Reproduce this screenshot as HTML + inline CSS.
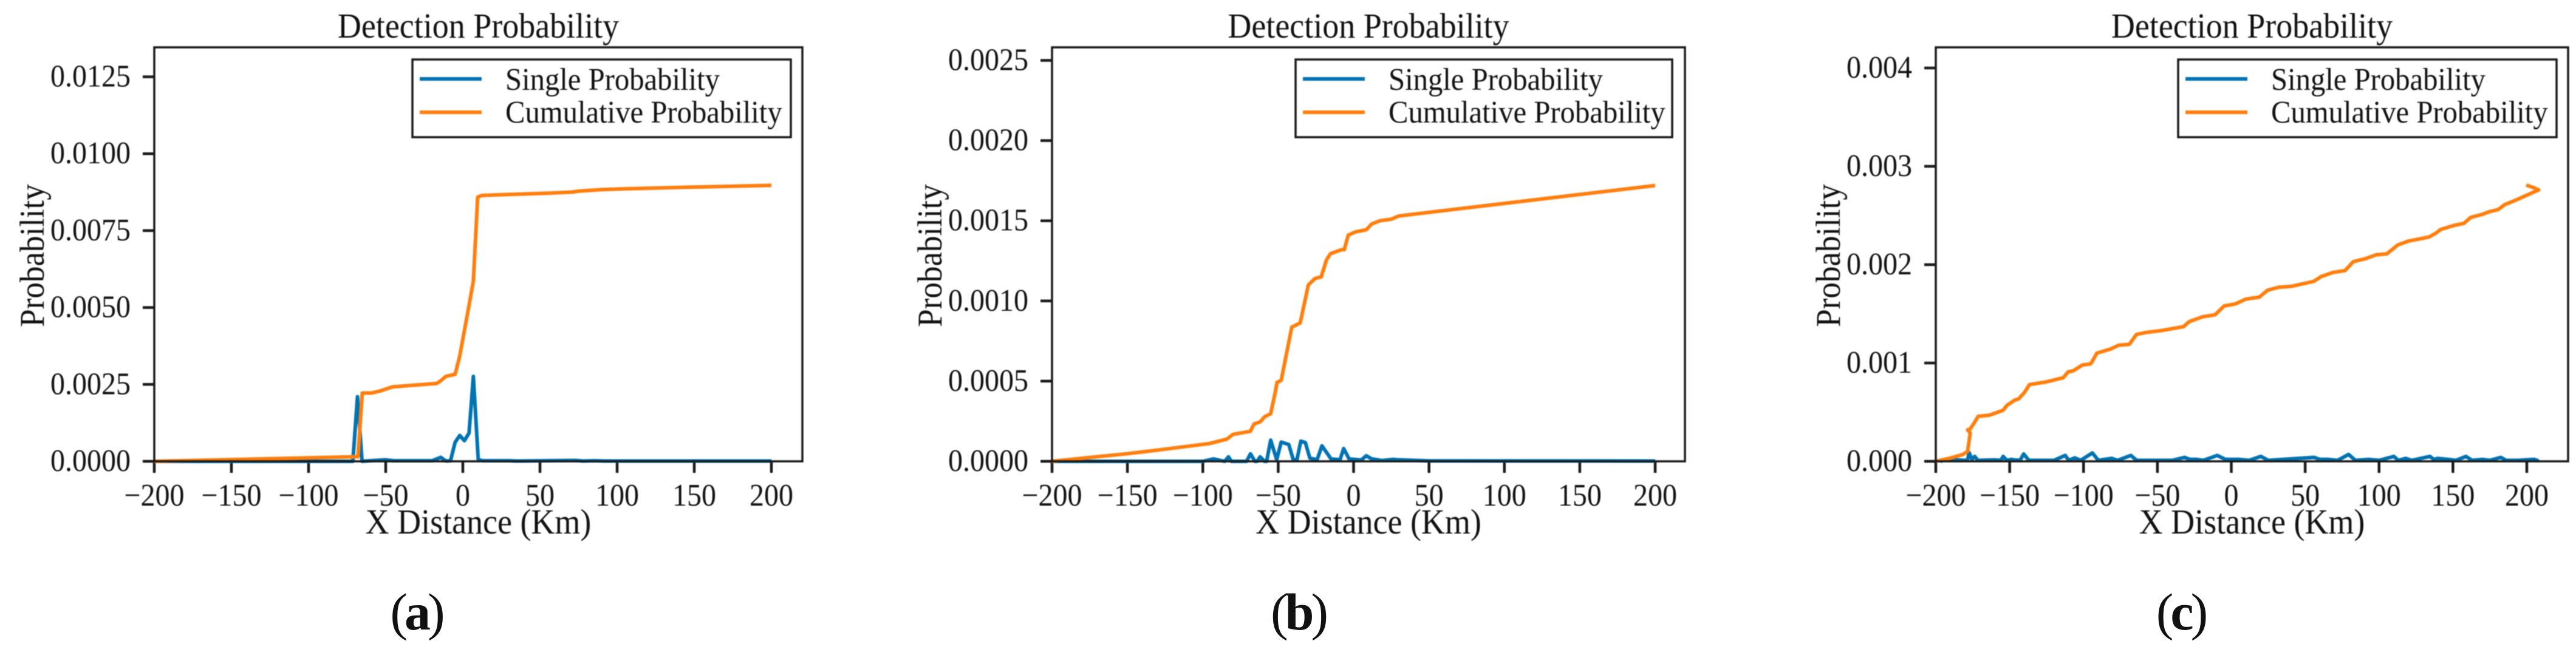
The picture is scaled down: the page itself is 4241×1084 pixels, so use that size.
<!DOCTYPE html>
<html>
<head>
<meta charset="utf-8">
<title>Detection Probability</title>
<style>
html,body{margin:0;padding:0;background:#fff;}
svg{display:block;}
text{font-family:"Liberation Serif",serif;fill:#111;}
.panel{filter:blur(0.7px);}
</style>
</head>
<body>
<svg id="figure" xmlns="http://www.w3.org/2000/svg" width="4241" height="1084" viewBox="0 0 4241 1084">
<rect width="4241" height="1084" fill="#ffffff"/>
</svg>
<script>
const xTicks = [-200,-150,-100,-50,0,50,100,150,200];

const aYTicks = [0,0.0025,0.005,0.0075,0.01,0.0125];
const aYLabels = ["0.0000","0.0025","0.0050","0.0075","0.0100","0.0125"];
const aSingleX = [-200,-71.3,-68.3,-65.3,-60,-50.2,-45,-20,-14.3,-11,-8,-5,-2,1,4,6.8,10,13,30,35,73,78,85,92,200];
const aSingleY = [0,0,0.0021,0,0.00002,0.00005,0.00002,0.00002,0.00013,0.00001,0.00002,0.00062,0.00084,0.00067,0.00092,0.00276,0.00005,0.00002,0.00002,0.00001,0.00003,0.00001,0.00002,0.00001,0.00001];
const aCumX = [-200,-68,-65.2,-59.3,-53.3,-45.7,-38,-17,-14.8,-11,-5,-2.1,1.4,3.9,6.8,9.6,12,21,56.7,71,74.5,89,106,146,200];
const aCumY = [0,0.00015,0.00222,0.00222,0.00229,0.00242,0.00245,0.00253,0.0026,0.00276,0.00283,0.00341,0.00436,0.00504,0.00586,0.00859,0.00864,0.00866,0.00872,0.00875,0.00878,0.00883,0.00886,0.00891,0.00897];

const bYTicks = [0,0.0005,0.001,0.0015,0.002,0.0025];
const bYLabels = ["0.0000","0.0005","0.0010","0.0015","0.0020","0.0025"];
const bSingleX = [-200,-100,-93,-85.5,-83,-81,-71,-68.4,-65.4,-64,-62,-59,-57.7,-55,-51,-48,-43,-40,-37.6,-35,-32,-29,-24.2,-21,-15,-9,-6.6,-3,5,8.4,12,15.6,18.7,26,29,50,200];
const bSingleY = [0,0,0.000015,0,0.000028,0,0,0.000047,0,0,0.000028,0,0,0.000132,0.00001,0.00012,0.000105,0.00001,0.00001,0.000126,0.000117,0.00002,0.00001,0.000097,0.000015,0.00001,0.00008,0.000015,0.000008,0.000035,0.000015,0.00001,0.000005,0.000012,0.00001,0.000003,0.000002];
const bCumX = [-200,-180.4,-151,-131,-95.5,-91,-84,-80,-68.5,-66,-62,-59,-55,-52,-50.8,-48,-41,-35.4,-30,-25.6,-21.5,-18,-15.3,-8,-6.2,-3.6,1,8.4,12,17.5,25,30,39,200];
const bCumY = [0,0.000019,0.0000467,0.000069,0.000111,0.000122,0.000139,0.000168,0.000187,0.000233,0.000246,0.000278,0.000297,0.000429,0.000492,0.000505,0.000837,0.000863,0.0011,0.00114,0.00115,0.001256,0.001295,0.00132,0.00132,0.00141,0.00143,0.001444,0.00148,0.0015,0.00151,0.00153,0.00154,0.00172];

const cYTicks = [0,0.001,0.002,0.003,0.004];
const cYLabels = ["0.000","0.001","0.002","0.003","0.004"];
const cSingleX = [-197,-195,-190,-180,-178.5,-177.5,-175.5,-173.7,-171.5,-160,-156,-154.4,-152,-149,-147,-143,-140.5,-137,-120,-112.4,-110,-106,-102,-94,-90,-81,-77,-68,-64,-40,-31.7,-28,-23.3,-19,-9.5,-4,5.5,12,20,25,56,60,65.7,72,79.4,84,93.3,100,105,110,113,118,122,134.4,137,139.7,147,152,158.8,163,170,175,182.4,186,194,205,208];
const cSingleY = [0,0.00001,0.00002,0.00001,0.00001,0.00009,0.00002,0.00005,0.00001,0.000015,0.00001,0.00005,0.00001,0.00002,0.000015,0.00001,0.000075,0.00001,0.00001,0.00006,0.00001,0.000035,0.00001,0.000085,0.00001,0.00003,0.00001,0.00006,0.00001,0.00001,0.00004,0.00002,0.00002,0.00001,0.00006,0.00002,0.00002,0.00001,0.00005,0.00001,0.00004,0.00002,0.00002,0.00001,0.00007,0.00001,0.00002,0.00001,0.00003,0.00005,0.00001,0.00003,0.00001,0.00005,0.00002,0.00003,0.00002,0.00001,0.00005,0.00001,0.00002,0.00001,0.00004,0.00001,0.00001,0.00002,0.000005];
const cCumX = [-200,-191,-182,-178.5,-176.7,-178.5,-176.7,-174,-171.4,-163.6,-154.4,-151.8,-146.5,-144,-140,-136.6,-125.6,-113.8,-110.4,-107,-100.7,-95.4,-94.7,-91,-82,-76.3,-69,-64.2,-58,-47,-32.3,-28.6,-19.5,-11,-4.8,2.6,10,19,24.6,32,41,55.8,61,68.6,77,82.6,90.6,98,105.3,112.7,120,133.6,138.4,142,151,157.4,162,169.5,175,180.6,185,191.6,199,208,205,199.6];
const cCumY = [0,0.00003,0.000068,0.0001,0.00029,0.00032,0.00033,0.00039,0.000457,0.00047,0.00052,0.00057,0.000623,0.000634,0.0007,0.00078,0.000807,0.00085,0.00091,0.00092,0.00098,0.00099,0.001,0.0011,0.00114,0.00118,0.00119,0.00129,0.00131,0.00133,0.00137,0.00142,0.00147,0.00149,0.00158,0.0016,0.00165,0.00167,0.00174,0.00177,0.00178,0.00183,0.00188,0.00192,0.00194,0.00203,0.00206,0.0021,0.00211,0.0022,0.00224,0.00228,0.00232,0.00236,0.0024,0.00242,0.00248,0.00251,0.00254,0.00256,0.00261,0.00265,0.0027,0.00276,0.00278,0.00281];

const NS = "http://www.w3.org/2000/svg";
const figure = document.getElementById("figure");
const BLUE = "#0173b2";
const ORANGE = "#ff7f0e";
const INK = "#1a1a1a";
const SQUEEZE = 0.93;

function make(parent, tag, attrs, content) {
  const el = document.createElementNS(NS, tag);
  for (const k in attrs) el.setAttribute(k, attrs[k]);
  if (content !== undefined) el.textContent = content;
  parent.appendChild(el);
  return el;
}

function seg(parent, x1, y1, x2, y2, color, width) {
  return make(parent, "line", {x1:x1, y1:y1, x2:x2, y2:y2, stroke:color, "stroke-width":width});
}

function label(parent, x, y, size, anchor, content, rotate) {
  const turn = rotate ? " rotate(-90)" : "";
  return make(parent, "text", {
    transform: "translate(" + x + "," + y + ")" + turn + " scale(" + SQUEEZE + ",1)",
    "font-size": size / SQUEEZE,
    "text-anchor": anchor
  }, content);
}

function drawPanel(p) {
  const g = make(figure, "g", {class:"panel"});
  
  

  const sx = v => p.x0 + (v + 200) / 400 * (p.x200 - p.x0);
  const sy = v => p.bottom - v * p.pxPerUnit;
  const cx = (p.left + p.right) / 2;

  const title = label(g, cx, 62, 54, "middle", "Detection Probability");
  
  

  xTicks.forEach(function (t) {
    const x = sx(t);
    const mark = seg(g, x, p.bottom, x, p.bottom + 19, INK, 4.5);
    
    
    const tickText = label(g, x, 833, 48, "middle", String(t).replace("-", "\u2212"));
    
    
  });

  p.yTicks.forEach(function (t, i) {
    const y = sy(t);
    const mark = seg(g, p.left - 19, y, p.left, y, INK, 4.5);
    
    
    const tickText = label(g, p.left - 39, y + 16, 48, "end", p.yLabels[i]);
    
    
  });

  const xTitle = label(g, cx, 879, 54, "middle", "X Distance (Km)");
  
  

  const yTitle = label(g, p.yTitleX, 421, 53, "middle", "Probability", true);
  
  

  const toPoints = (xs, ys) => xs.map((v, i) => sx(v).toFixed(1) + "," + sy(ys[i]).toFixed(1)).join(" ");

  const single = make(g, "polyline", {points:toPoints(p.singleX, p.singleY), fill:"none", stroke:BLUE, "stroke-width":6, "stroke-linejoin":"round"});
  
  

  const cumulative = make(g, "polyline", {points:toPoints(p.cumX, p.cumY), fill:"none", stroke:ORANGE, "stroke-width":6, "stroke-linejoin":"round"});
  
  

  const frame = make(g, "rect", {x:p.left, y:78, width:p.right - p.left, height:p.bottom - 78, fill:"none", stroke:INK, "stroke-width":3.5});
  
  

  const legend = make(g, "g", {});
  
  

  const box = make(legend, "rect", {x:p.legendLeft, y:98, width:p.legendRight - p.legendLeft, height:128, fill:"#ffffff", stroke:INK, "stroke-width":3.5});
  
  

  const hx = p.legendLeft + 12;
  const tx = p.legendLeft + 153;

  const swatch1 = seg(legend, hx, 130, hx + 102, 130, BLUE, 6);
  
  
  const text1 = label(legend, tx, 148, 48.7, "start", "Single Probability");
  
  

  const swatch2 = seg(legend, hx, 185, hx + 102, 185, ORANGE, 6);
  
  
  const text2 = label(legend, tx, 202, 48.7, "start", "Cumulative Probability");
  
  

  const caption = make(figure, "text", {x:p.captionX, y:1037, "font-size":86, "text-anchor":"middle", "letter-spacing":"-5"});
  
  
  make(caption, "tspan", {}, "(");
  make(caption, "tspan", {"font-weight":"bold"}, p.id);
  make(caption, "tspan", {}, ")");
}

drawPanel({id:"a", left:254, right:1321, x0:254, x200:1270, bottom:760, pxPerUnit:126.7/0.0025,
  yTicks:aYTicks, yLabels:aYLabels, singleX:aSingleX, singleY:aSingleY, cumX:aCumX, cumY:aCumY,
  yTitleX:72, legendLeft:679, legendRight:1302, captionX:685});
drawPanel({id:"b", left:1732, right:2774, x0:1732, x200:2725, bottom:760, pxPerUnit:132.1/0.0005,
  yTicks:bYTicks, yLabels:bYLabels, singleX:bSingleX, singleY:bSingleY, cumX:bCumX, cumY:bCumY,
  yTitleX:1550, legendLeft:2133, legendRight:2753, captionX:2137});
drawPanel({id:"c", left:3187, right:4228, x0:3187, x200:4160, bottom:760, pxPerUnit:162/0.001,
  yTicks:cYTicks, yLabels:cYLabels, singleX:cSingleX, singleY:cSingleY, cumX:cCumX, cumY:cCumY,
  yTitleX:3029, legendLeft:3586, legendRight:4209, captionX:3590});
</script>
</body>
</html>
